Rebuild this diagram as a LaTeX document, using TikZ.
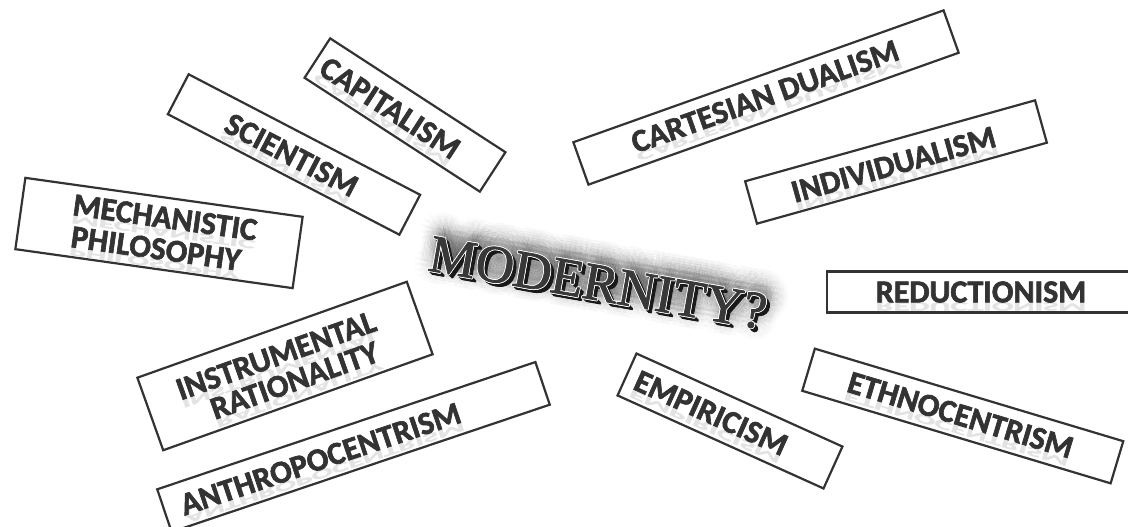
\documentclass[tikz,border=0pt]{standalone}
\usepackage{fontspec}
\setmainfont{Carlito}
\newfontfamily\boxfont{Carlito Bold}[FakeBold=2]
\newfontfamily\modfont{Liberation Serif}[FakeBold=1.5]
\usetikzlibrary{calc}
\definecolor{ink}{HTML}{333333}
\tikzset{
  box/.style 2 args={draw=ink, line width=2.2pt, minimum width=#1, minimum height=#2, inner sep=0pt},
  lbl/.style={font=\boxfont\fontsize{32}{32}\selectfont, text=ink, inner sep=0pt},
  refl/.style={font=\boxfont\fontsize{32}{32}\selectfont, text=black!11, inner sep=0pt, yscale=-0.4},
  modt/.style={font=\modfont\fontsize{53}{53}\selectfont, inner sep=0pt, rotate=-10}
}
\newcommand\tagtext[4]{%
  \node[rotate=#3, refl, anchor=base] (#1r) at ($(#2)+({10.3*sin(#3)},{10.3*cos(#3)})$) {#4};
  \node[lbl, rotate=#3] (#1) at (#2) {#4};}
\begin{document}
\begin{tikzpicture}[x=1pt,y=-1pt]
\clip (0,0) rectangle (1128,527);
\fill[white] (0,0) rectangle (1128,527);
% boxes
\node[box={209pt}{47pt}, rotate=-33] (capB) at (405,115) {};
\node[box={261pt}{45pt}, rotate=-27.5] (sciB) at (294,154.5) {};
\node[box={280pt}{72pt}, rotate=-8] (mecB) at (159,233) {};
\node[box={286pt}{77pt}, rotate=19.6] (insB) at (285,366) {};
\node[box={399pt}{45pt}, rotate=18.6] (antB) at (353.5,447) {};
\node[box={393pt}{45pt}, rotate=19.6] (carB) at (766,97.5) {};
\node[box={301pt}{44pt}, rotate=15.6] (indB) at (896,162) {};
\node[box={320pt}{41pt}] (redB) at (987,292) {};
\node[box={322pt}{44pt}, rotate=-16.7] (ethB) at (962.75,416) {};
\node[box={226pt}{46pt}, rotate=-24.3] (empB) at (730,421) {};
% labels
\tagtext{cap}{390,108}{-33}{CAPITALISM}
\tagtext{sci}{291.5,155}{-27.5}{SCIENTISM}
\tagtext{mec1}{165,217.5}{-8}{MECHANISTIC}
\tagtext{mec2}{156,248.5}{-8}{PHILOSOPHY}
\tagtext{ins1}{276,355.5}{19.6}{INSTRUMENTAL}
\tagtext{ins2}{294.5,380.5}{19.6}{RATIONALITY}
\tagtext{ant}{320.5,459}{18.6}{ANTHROPOCENTRISM}
\tagtext{car}{765,96.5}{19.6}{CARTESIAN DUALISM}
\tagtext{ind}{893.5,164.5}{15.6}{INDIVIDUALISM}
\tagtext{red}{981,292}{0}{REDUCTIONISM}
\tagtext{eth}{960.5,415}{-16.7}{ETHNOCENTRISM}
\tagtext{emp}{711,413}{-24.3}{EMPIRICISM}
% central title
\coordinate (mc) at (598,283);
\foreach \r in {3,6,...,18}
  \foreach \t in {0,20,...,340}
    \node[xshift={4+\r*cos(\t)}, yshift={6+\r*sin(\t)}, modt, text=black, text opacity=0.01] at (mc) {MODERNITY?};
\foreach \k in {1,...,7}
  \node[xshift={\k*0.55}, yshift={-\k*0.55}, modt, text=black!90] at (mc) {MODERNITY?};
\foreach \t in {0,45,...,315}
  \node[xshift={0.8*cos(\t)}, yshift={0.8*sin(\t)}, modt, text=white] at (mc) {MODERNITY?};
\node[modt, text=black!78] (mod) at (mc) {MODERNITY?};
\end{tikzpicture}
\end{document}
